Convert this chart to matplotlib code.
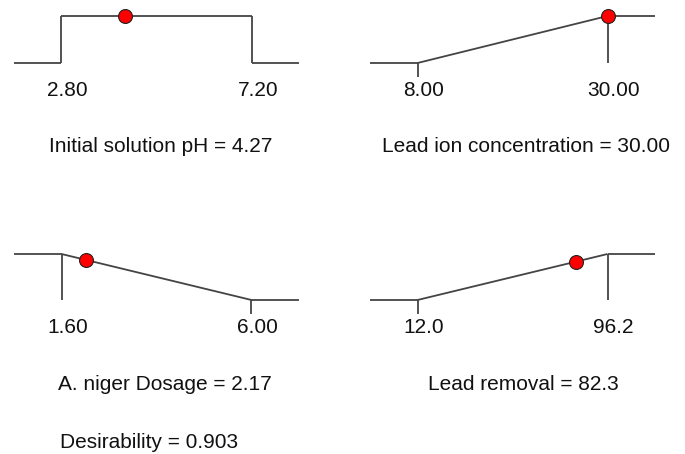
import matplotlib.pyplot as plt
from matplotlib.transforms import offset_copy

plt.rcParams['font.family'] = ['Liberation Sans', 'DejaVu Sans']

# desirability ramps (one per factor / response)
names = ['Initial solution pH', 'Lead ion concentration', 'A. niger Dosage', 'Lead removal']
lows = [2.80, 8.00, 1.60, 12.0]
highs = [7.20, 30.00, 6.00, 96.2]
d_low = [1.0, 0.0, 1.0, 0.0]     # desirability at the low limit
d_high = [1.0, 1.0, 0.0, 1.0]    # desirability at the high limit
d_below = [0.0, 0.0, 1.0, 0.0]   # desirability below the low limit
d_above = [0.0, 1.0, 0.0, 1.0]   # desirability above the high limit
current = [4.27, 30.00, 2.17, 82.3]
fmt = ['{:.2f}', '{:.2f}', '{:.2f}', '{:.1f}']
desirability = 0.903

W, H = 685, 454
fig = plt.figure(figsize=(W / 100, H / 100), dpi=100)

# panel boxes in pixels: left, top (d=1), width, bottom (d=0)
boxes = [(14, 16, 285, 63), (370, 16, 285, 63),
         (14, 254, 285, 300), (370, 254, 285, 300)]
title_dx = [4, 13, 8, 11]

line_kw = dict(color='#444444', lw=1.3, solid_capstyle='butt', clip_on=False)
txt_kw = dict(fontsize=15, color='#111111')

for i, (l, t, w, b) in enumerate(boxes):
    ax = fig.add_axes([l / W, (H - b) / H, w / W, (b - t) / H])
    ax.set_axis_off()
    lo, hi = lows[i], highs[i]
    span = hi - lo
    ax.set_xlim(lo - 0.25 * span, hi + 0.25 * span)
    ax.set_ylim(0, 1)

    # flat parts outside the limits and the ramp between them
    ax.plot([lo - 0.25 * span, lo], [d_below[i], d_below[i]], **line_kw)
    ax.plot([hi, hi + 0.25 * span], [d_above[i], d_above[i]], **line_kw)
    ax.plot([lo, hi], [d_low[i], d_high[i]], **line_kw)

    # vertical marks at each limit
    for x, d in ((lo, d_low[i]), (hi, d_high[i])):
        if d > 0:
            ax.plot([x, x], [d, 0], **line_kw)
        else:
            ax.plot([x, x], [0, -0.3], **line_kw)
        ax.annotate(fmt[i].format(x), (x, 0), xytext=(4.5, -20),
                    textcoords='offset points', ha='center', va='center',
                    annotation_clip=False, **txt_kw)

    # current setting
    cur = current[i]
    dcur = d_low[i] + (d_high[i] - d_low[i]) * (cur - lo) / span
    ax.plot([cur], [dcur], 'o', ms=10, mfc='#ff0000', mec='#222222', mew=0.8,
            clip_on=False, zorder=5)

    trans = offset_copy(ax.transAxes, fig=fig, x=title_dx[i] * 0.72, y=-84 * 0.72,
                        units='points')
    ax.text(0.5, 0, names[i] + ' = ' + fmt[i].format(cur), transform=trans,
            ha='center', va='center', **txt_kw)

fig.text(149 / W, 1 - 442 / H, 'Desirability = {:.3f}'.format(desirability),
         ha='center', va='center', **txt_kw)

fig.savefig('out.png', dpi=100, facecolor='white')
